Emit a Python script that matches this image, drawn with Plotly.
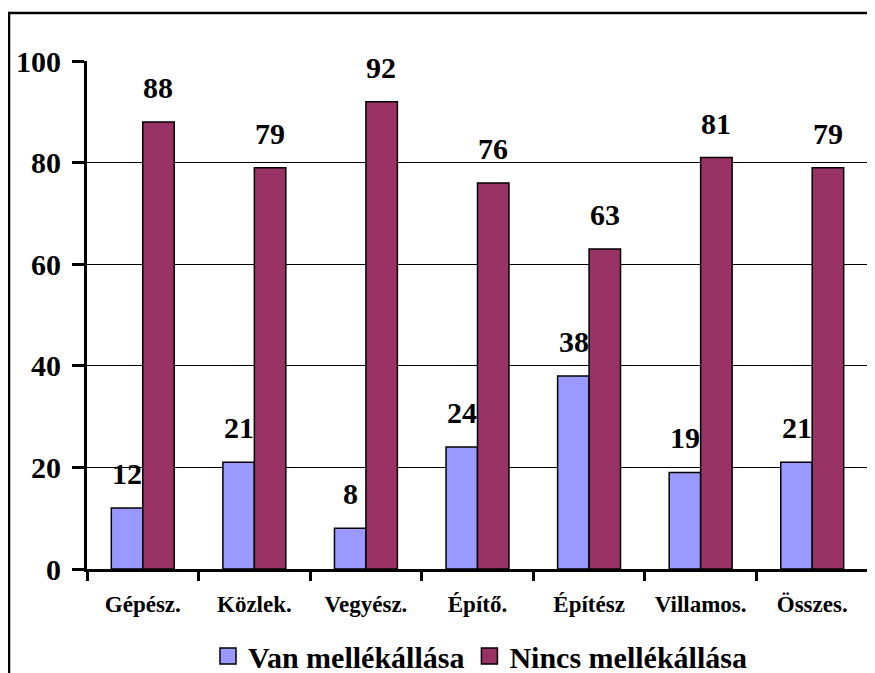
import plotly.graph_objects as go

categories = ["Gépész.", "Közlek.", "Vegyész.", "Építő.", "Építész", "Villamos.", "Összes."]
van = [12, 21, 8, 24, 38, 19, 21]
nincs = [88, 79, 92, 76, 63, 81, 79]
series_names = ["Van mellékállása", "Nincs mellékállása"]
y_ticks = [0, 20, 40, 60, 80, 100]

BLUE = "#9999FF"
MAROON = "#993366"
FONT = "Liberation Serif"

OFF = 8  # page body margin offset
W, H = 875 - OFF, 673 - OFF
L, R, T, B = 87 - OFF, 868 - OFF, 61 - OFF, 569 - OFF  # plot-area pixel edges in figure coords


def px_to_paper_x(px):
    return (px - OFF - L) / (R - L)


def px_to_paper_y(py):
    return (B - (py - OFF)) / (B - T)


fig = go.Figure()
fig.add_trace(go.Bar(x=categories, y=van, name=series_names[0], marker=dict(color=BLUE, line=dict(color="black", width=1.5)), showlegend=False))
fig.add_trace(go.Bar(x=categories, y=nincs, name=series_names[1], marker=dict(color=MAROON, line=dict(color="black", width=1.5)), showlegend=False))

# legend entries
for nm, col in zip(series_names, [BLUE, MAROON]):
    fig.add_trace(go.Scatter(x=[None], y=[None], mode="markers", name=nm,
                             marker=dict(symbol="square", size=16, color=col, line=dict(color="black", width=1.5))))

annotations = []
for c, v in zip(categories, van):
    annotations.append(dict(x=c, y=v, xref="x", yref="y", text=f"<b>{v}</b>", showarrow=False,
                            yanchor="bottom", xshift=-15.5, yshift=16,
                            font=dict(family=FONT, size=30, color="black")))
for c, v in zip(categories, nincs):
    annotations.append(dict(x=c, y=v, xref="x", yref="y", text=f"<b>{v}</b>", showarrow=False,
                            yanchor="bottom", xshift=15.5, yshift=16,
                            font=dict(family=FONT, size=30, color="black")))

fig.update_layout(
    width=W, height=H,
    margin=dict(l=L, r=W - R, t=T, b=H - B, autoexpand=False),
    paper_bgcolor="white", plot_bgcolor="white",
    barmode="group", bargap=0.436, bargroupgap=0,
    font=dict(family=FONT, color="black"),
    annotations=annotations,
    legend=dict(orientation="h", xref="container", yref="container",
                x=(208 - OFF) / W, xanchor="left", y=1 - (656 - OFF) / H, yanchor="middle",
                font=dict(family=FONT, size=30, color="black", weight="bold"),
                itemsizing="trace", bgcolor="rgba(0,0,0,0)"),
    shapes=[
        dict(type="rect", xref="paper", yref="paper",
             x0=px_to_paper_x(9), x1=px_to_paper_x(900), y0=px_to_paper_y(700), y1=px_to_paper_y(13),
             line=dict(color="black", width=2.5), layer="below"),
        dict(type="line", xref="paper", yref="paper", x0=1, x1=1, y0=0, y1=1,
             line=dict(color="#222222", width=2)),
    ],
)
fig.update_xaxes(
    type="category", showgrid=False, showline=True, linecolor="black", linewidth=3,
    ticks="outside", ticklen=9, tickwidth=3, tickcolor="black", tickson="boundaries",
    tickfont=dict(family=FONT, size=23, color="black", weight="bold"), ticklabelstandoff=12,
    automargin=False,
)
fig.update_yaxes(
    range=[0, 100], tickvals=y_ticks, showgrid=True, gridcolor="black", gridwidth=1,
    showline=True, linecolor="black", linewidth=3, zeroline=False,
    ticks="outside", ticklen=12, tickwidth=3, tickcolor="black",
    tickfont=dict(family=FONT, size=30, color="black", weight="bold"), ticklabelstandoff=5,
    automargin=False,
)

fig.write_html("out.html")
